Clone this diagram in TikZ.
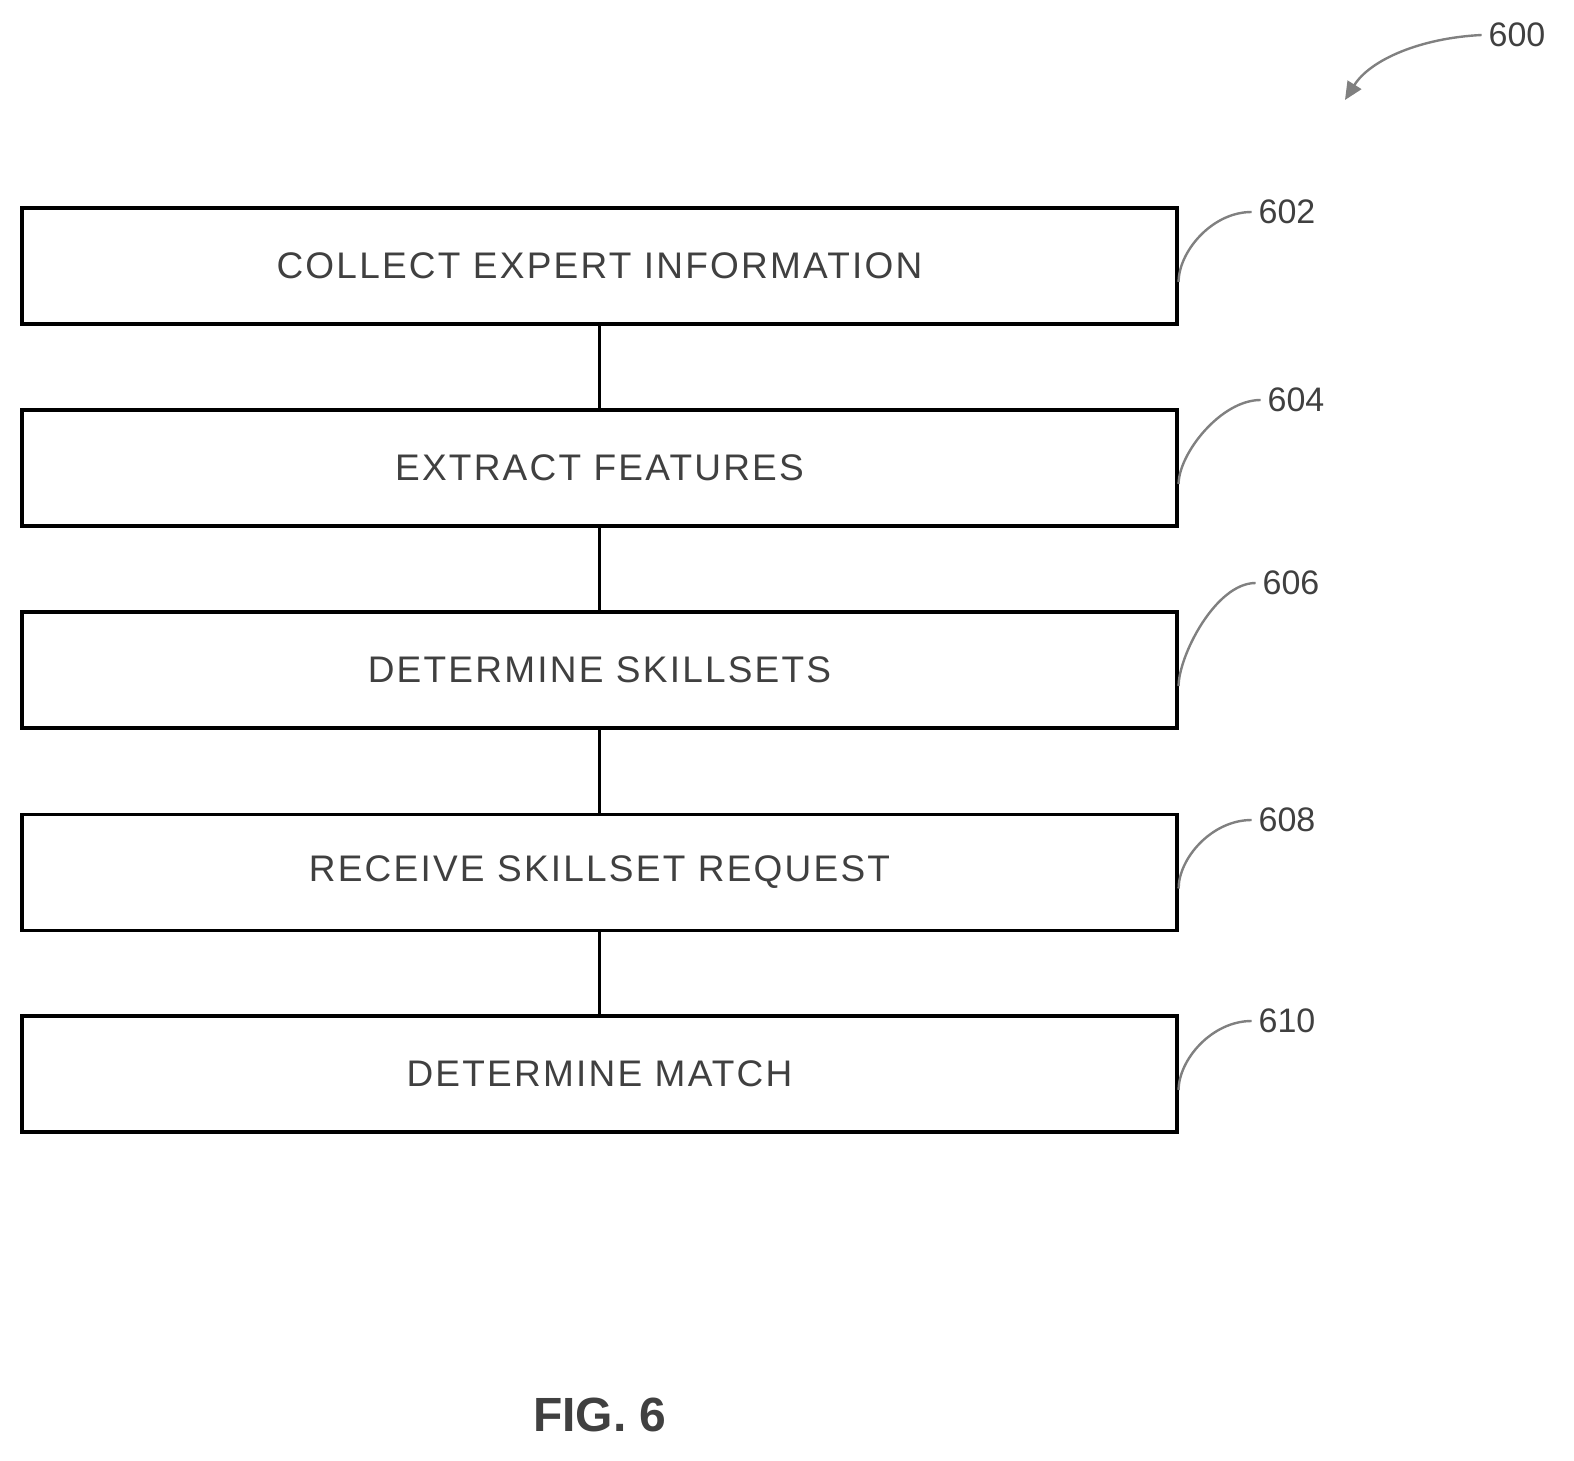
\documentclass[tikz,border=0pt]{standalone}
\usepackage{fontspec}
\setmainfont{Liberation Sans}
\usetikzlibrary{arrows.meta}
\begin{document}
\begin{tikzpicture}[x=0.5pt,y=-0.5pt,
 box/.style={draw,line width=1.6pt,minimum width=577.5pt,minimum height=58pt,inner sep=0,font=\addfontfeature{LetterSpace=6}\fontsize{18.5}{20}\selectfont,text=black!75},
 lbl/.style={font=\fontsize{17}{18}\selectfont,text=black!75},
 sq/.style={line width=1.2pt,gray}]
\useasboundingbox (0,0) rectangle (1574,1461);
\node[box] (b1) at (599.5,266) {COLLECT EXPERT INFORMATION};
\node[box] (b2) at (599.5,468) {EXTRACT FEATURES};
\node[box] (b3) at (599.5,670) {DETERMINE SKILLSETS};
\node[box] (b4) at (599.5,872.5) {RECEIVE SKILLSET REQUEST};
\node[box] (b5) at (599.5,1074) {DETERMINE MATCH};
\foreach \a/\b in {b1/b2,b2/b3,b3/b4,b4/b5}
  \draw[line width=1.6pt] (\a.south) -- (\b.north);
\foreach \b/\t/\lx/\ly in {b1/602/1287/212,b2/604/1296/400,b3/606/1291/583,b4/608/1287/820,b5/610/1287/1021}{
  \node[lbl] (l\t) at (\lx,\ly) {\t};
  \draw[sq] ([yshift=-8pt]\b.east) .. controls +(0,-30) and +(-40,0) .. (l\t.west);
}
\node[lbl] (l600) at (1517,35) {600};
\coordinate (a600) at (1345,100);
\draw[sq,-{Triangle[length=9pt,width=8pt]}] (l600.west) .. controls (1420,38) and (1370,60) .. (a600);
\node[font=\bfseries\fontsize{24}{26}\selectfont,text=black!75] (fig) at (600,1415) {FIG. 6};
\end{tikzpicture}
\end{document}
